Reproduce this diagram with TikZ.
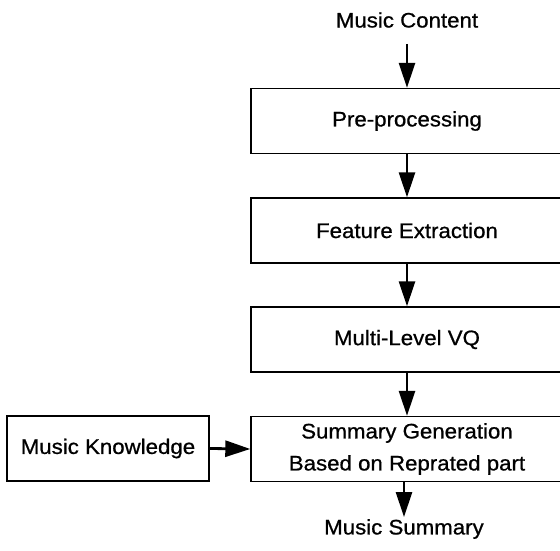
\documentclass[tikz,border=0pt]{standalone}
\usepackage{fontspec}
\newfontfamily\gul{Liberation Sans}[FakeStretch=1.06,FakeBold=0.8]
\usetikzlibrary{arrows.meta}
\tikzset{
  box/.style={draw, line width=1.4pt, minimum height=65pt, align=center, inner sep=0pt},
  mainbox/.style={box, minimum width=312pt},
  lbl/.style={inner sep=0pt, align=center},
  flow/.style={line width=2.8pt, -{Triangle[length=25pt,width=16pt]}, shorten >=0pt}
}
\begin{document}
\begin{tikzpicture}[x=1pt,y=-1pt,font=\gul\fontsize{21}{32}\selectfont]
\useasboundingbox (0,0) rectangle (560,551);
\clip (0,0) rectangle (560,551);
\node[lbl] (mc) at (407,20) {Music Content};
\node[mainbox] (pre) at (407,121) {Pre-processing};
\node[mainbox] (fe) at (407,230.5) {Feature Extraction};
\node[mainbox] (vq) at (407,339.5) {Multi-Level VQ};
\node[mainbox] (sg) at (407,449) {Summary Generation\\Based on Reprated part};
\node[box, minimum width=202pt] (mk) at (108,448.5) {Music Knowledge};
\node[lbl] (ms) at (404,529) {Music Summary};
\coordinate (a0) at (407,44);
\coordinate (a1) at (404,481);
\draw[flow] (a0) -- (pre.north);
\draw[flow] (pre.south) -- (fe.north);
\draw[flow] (fe.south) -- (vq.north);
\draw[flow] (vq.south) -- (sg.north);
\draw[flow] (mk.east) -- (sg.west);
\draw[flow] (a1) -- (404,517);
\end{tikzpicture}
\end{document}
